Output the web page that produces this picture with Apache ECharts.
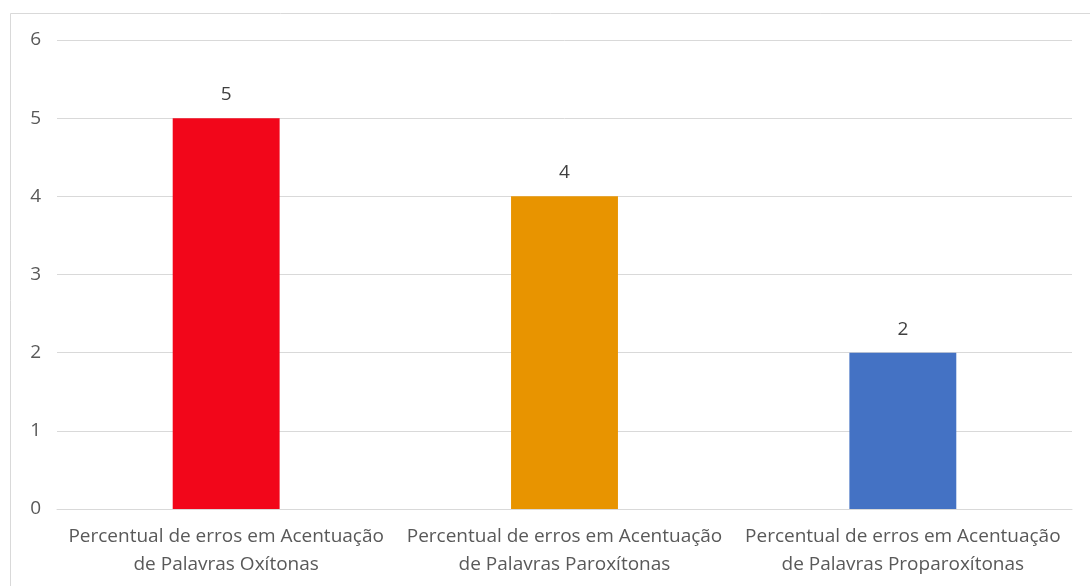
<!DOCTYPE html>
<html>
<head>
<meta charset="utf-8">
<script src="https://cdn.jsdelivr.net/npm/echarts@6/dist/echarts.min.js"></script>
<style>
html,body{margin:0;padding:0;background:#fff;}
#chart{width:1090px;height:586px;}
</style>
</head>
<body>
<div id="chart"></div>
<script>
const categories = [
  "Percentual de erros em Acentuação\nde Palavras Oxítonas",
  "Percentual de erros em Acentuação\nde Palavras Paroxítonas",
  "Percentual de erros em Acentuação\nde Palavras Proparoxítonas"
];
const values = [5, 4, 2];
const barColors = ["#F2061A", "#E89400", "#4472C4"];
const yTicks = { min: 0, max: 6, interval: 1 };

const chart = echarts.init(document.getElementById('chart'), null, { renderer: 'canvas' });
const font = '"Open Sans", "Liberation Sans", sans-serif';
chart.setOption({
  animation: false,
  backgroundColor: '#ffffff',
  graphic: [{
    type: 'rect',
    shape: { x: 10.5, y: 13.5, width: 1100, height: 600 },
    style: { fill: 'none', stroke: '#D9D9D9', lineWidth: 1 },
    silent: true
  }],
  grid: { left: 57, right: 18, top: 40, bottom: 77, containLabel: false },
  xAxis: {
    type: 'category',
    data: categories,
    axisLine: { show: true, lineStyle: { color: '#D9D9D9', width: 1 } },
    axisTick: { show: false },
    axisLabel: { color: '#595959', fontSize: 19, fontFamily: font, lineHeight: 28, margin: 14, interval: 0 }
  },
  yAxis: {
    type: 'value',
    min: yTicks.min, max: yTicks.max, interval: yTicks.interval,
    axisLine: { show: false },
    axisTick: { show: false },
    splitLine: { lineStyle: { color: '#D9D9D9', width: 1 } },
    axisLabel: { color: '#595959', fontSize: 19, fontFamily: font, margin: 16 }
  },
  series: [{
    type: 'bar',
    barWidth: '31.6%',
    data: values.map((v, i) => ({ value: v, itemStyle: { color: barColors[i] } })),
    label: { show: true, position: 'top', color: '#404040', fontSize: 19, fontFamily: font, distance: 14 }
  }]
});
</script>
</body>
</html>
